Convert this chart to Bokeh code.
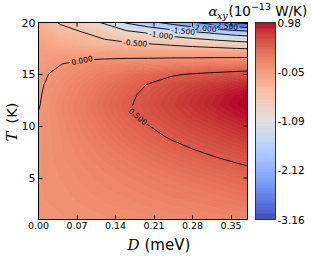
import numpy as np
import contourpy
from bokeh.plotting import figure
from bokeh.models import (Range1d, FixedTicker, PrintfTickFormatter,
                          ColumnDataSource, LinearColorMapper)
from bokeh.core.properties import value
from bokeh.embed import file_html
from bokeh.resources import INLINE

# ---------------- data ----------------
D_meV = [0.0, 0.02, 0.04, 0.08, 0.12, 0.16, 0.20, 0.24, 0.28, 0.32, 0.36, 0.38]
T_K = [1, 3, 5, 7, 9, 11, 12, 13, 14, 15, 16, 17, 18, 19, 20]

# alpha_xy (1e-13 W/K), one list per temperature row, columns follow D_meV
alpha_T01 = [0.01, 0.015, 0.02, 0.035, 0.05, 0.065, 0.08, 0.095, 0.11, 0.125, 0.14, 0.15]
alpha_T03 = [0.02, 0.03, 0.04, 0.07, 0.10, 0.12, 0.15, 0.18, 0.20, 0.23, 0.26, 0.27]
alpha_T05 = [0.02, 0.04, 0.06, 0.10, 0.14, 0.18, 0.22, 0.26, 0.30, 0.34, 0.38, 0.40]
alpha_T07 = [0.02, 0.05, 0.08, 0.14, 0.20, 0.26, 0.32, 0.38, 0.44, 0.495, 0.545, 0.57]
alpha_T09 = [0.01, 0.05, 0.09, 0.18, 0.27, 0.36, 0.44, 0.52, 0.59, 0.65, 0.72, 0.76]
alpha_T11 = [0.01, 0.06, 0.11, 0.23, 0.34, 0.45, 0.55, 0.64, 0.73, 0.81, 0.89, 0.93]
alpha_T12 = [-0.01, 0.06, 0.12, 0.24, 0.36, 0.47, 0.58, 0.68, 0.78, 0.87, 0.95, 0.98]
alpha_T13 = [-0.02, 0.05, 0.10, 0.22, 0.34, 0.45, 0.56, 0.66, 0.76, 0.85, 0.93, 0.96]
alpha_T14 = [-0.03, 0.03, 0.08, 0.19, 0.30, 0.41, 0.51, 0.61, 0.68, 0.75, 0.82, 0.85]
alpha_T15 = [-0.05, 0.005, 0.04, 0.13, 0.22, 0.31, 0.40, 0.47, 0.52, 0.56, 0.60, 0.62]
alpha_T16 = [-0.07, -0.04, -0.005, 0.07, 0.11, 0.14, 0.16, 0.18, 0.20, 0.22, 0.24, 0.25]
alpha_T17 = [-0.10, -0.10, -0.10, -0.11, -0.12, -0.12, -0.13, -0.13, -0.14, -0.14, -0.15, -0.15]
alpha_T18 = [-0.15, -0.20, -0.25, -0.33, -0.40, -0.46, -0.52, -0.59, -0.67, -0.75, -0.85, -0.90]
alpha_T19 = [-0.20, -0.30, -0.38, -0.48, -0.66, -0.85, -1.03, -1.20, -1.38, -1.55, -1.70, -1.75]
alpha_T20 = [-0.30, -0.42, -0.53, -0.80, -1.05, -1.55, -1.85, -2.15, -2.45, -2.75, -3.05, -3.16]
alpha_rows = [alpha_T01, alpha_T03, alpha_T05, alpha_T07, alpha_T09, alpha_T11, alpha_T12,
              alpha_T13, alpha_T14, alpha_T15, alpha_T16, alpha_T17, alpha_T18, alpha_T19,
              alpha_T20]

CBAR_MIN, CBAR_MAX = -3.16, 0.98
cbar_ticks = [0.98, -0.05, -1.09, -2.12, -3.16]
cbar_tick_labels = ["0.98", "-0.05", "-1.09", "-2.12", "-3.16"]
D_ticks = [0.0, 0.07, 0.14, 0.21, 0.28, 0.35]
T_ticks = [5, 10, 15, 20]
contour_levels = [-3.0, -2.5, -2.0, -1.5, -1.0, -0.5, 0.0, 0.5]
label_targets = {0.5: (0.182, 11.0), 0.0: (0.078, 16.68), -0.5: (0.176, 18.15),
                 -1.0: (0.223, 18.85), -1.5: (0.263, 19.25), -2.0: (0.302, 19.6),
                 -2.5: (0.341, 19.8)}

# matplotlib "coolwarm" anchor colours
COOLWARM = [(59, 76, 192), (68, 90, 204), (77, 104, 215), (87, 117, 225), (98, 130, 234),
            (108, 142, 241), (119, 154, 247), (130, 165, 251), (141, 176, 254),
            (152, 185, 255), (163, 194, 255), (174, 201, 253), (184, 208, 249),
            (194, 213, 244), (204, 217, 238), (213, 219, 230), (221, 221, 221),
            (229, 216, 209), (236, 211, 197), (241, 204, 185), (245, 196, 173),
            (247, 187, 160), (247, 177, 148), (247, 166, 135), (244, 154, 123),
            (241, 141, 111), (236, 127, 99), (229, 112, 88), (222, 96, 77),
            (213, 80, 66), (203, 62, 56), (192, 40, 47), (180, 4, 38)]
_anc = np.array(COOLWARM, dtype=float)
_pos = np.linspace(0, 1, len(COOLWARM))
PALETTE = []
for t in np.linspace(0, 1, 256):
    r, g, b = (np.interp(t, _pos, _anc[:, k]) for k in range(3))
    PALETTE.append("#%02x%02x%02x" % (int(round(r)), int(round(g)), int(round(b))))

# ---------------- layout (pixels of the 312x256 canvas) ----------------
FIG_W, FIG_H = 312, 256
X0, Y0 = 38, 22            # pixel of (D_min, T_max)
HEAT_W, HEAT_H = 209, 197  # heat-map size in pixels
D_MIN, D_MAX = D_meV[0], D_meV[-1]
T_MIN, T_MAX = T_K[0], T_K[-1]
kx = (D_MAX - D_MIN) / HEAT_W
ky = (T_MAX - T_MIN) / HEAT_H
kc = (CBAR_MAX - CBAR_MIN) / HEAT_H


def dx(px):
    return D_MIN + (px - X0) * kx


def ty(py):
    return T_MAX - (py - Y0) * ky


def cy(py):
    return CBAR_MAX - (py - Y0) * kc


p = figure(width=FIG_W, height=FIG_H, x_range=Range1d(dx(0), dx(FIG_W)),
           y_range=Range1d(ty(FIG_H), ty(0)), output_backend="svg", toolbar_location=None,
           title=None, min_border=0)
p.min_border_left = 0
p.min_border_bottom = 0
p.min_border_right = 0
p.min_border_top = 0
p.extra_y_ranges = {"cbar": Range1d(cy(FIG_H), cy(0))}
p.xgrid.visible = False
p.ygrid.visible = False
p.outline_line_color = None
p.background_fill_color = "white"
p.border_fill_color = "white"

# ---------------- filled field ----------------
Z = np.array(alpha_rows, dtype=float)
gen = contourpy.contour_generator(x=np.array(D_meV), y=np.array(T_K, dtype=float), z=Z,
                                  fill_type="OuterOffset", line_type="Separate")
mapper = LinearColorMapper(palette=PALETTE, low=CBAR_MIN, high=CBAR_MAX)
fill_levels = np.linspace(CBAR_MIN - 0.001, CBAR_MAX + 0.001, 131)
fxs, fys, fv = [], [], []
for lo, hi in zip(fill_levels[:-1], fill_levels[1:]):
    pts_list, offs_list = gen.filled(lo, hi)
    if len(pts_list) == 0:
        continue
    px_, py_ = [], []
    for pts, offs in zip(pts_list, offs_list):
        px_.append([pts[offs[j]:offs[j + 1], 0].tolist() for j in range(len(offs) - 1)])
        py_.append([pts[offs[j]:offs[j + 1], 1].tolist() for j in range(len(offs) - 1)])
    fxs.append(px_)
    fys.append(py_)
    fv.append(0.5 * (lo + hi))
p.multi_polygons(xs="xs", ys="ys", source=ColumnDataSource(dict(xs=fxs, ys=fys, v=fv)),
                 fill_color={"field": "v", "transform": mapper},
                 line_color={"field": "v", "transform": mapper}, line_width=0.7)

# ---------------- contour lines with labels ----------------
CW = {"-": 0.361, ".": 0.318}
LAB_FS = 7.5


def text_w(s):
    return sum(CW.get(c, 0.636) for c in s) * LAB_FS


def cut(P, lo, hi):
    s = np.concatenate([[0.0], np.cumsum(np.hypot(*np.diff(P, axis=0).T))])

    def at(v):
        return [np.interp(v, s, P[:, 0]), np.interp(v, s, P[:, 1])]
    out = []
    if lo > 0:
        a = np.vstack([P[s < lo], at(lo)])
        if len(a) >= 2:
            out.append(a)
    if hi < s[-1]:
        b = np.vstack([at(hi), P[s > hi]])
        if len(b) >= 2:
            out.append(b)
    return out


lxs, lys = [], []
lab = dict(x=[], y=[], text=[], angle=[])
for lev in contour_levels:
    segs = [np.asarray(a) for a in gen.lines(lev) if len(a) > 1]
    segs_px = [np.column_stack([(a[:, 0] - D_MIN) / kx, (a[:, 1] - T_MIN) / ky]) for a in segs]
    if lev in label_targets and segs_px:
        tD, tT = label_targets[lev]
        tp = np.array([(tD - D_MIN) / kx, (tT - T_MIN) / ky])
        best = None
        for i, P in enumerate(segs_px):
            s = np.concatenate([[0.0], np.cumsum(np.hypot(*np.diff(P, axis=0).T))])
            for j in range(len(P) - 1):
                a, b = P[j], P[j + 1]
                ab = b - a
                L2 = float(ab @ ab)
                t = 0.0 if L2 == 0 else float(np.clip((tp - a) @ ab / L2, 0, 1))
                q = a + t * ab
                d = float(np.hypot(*(q - tp)))
                if best is None or d < best[0]:
                    best = (d, i, s[j] + t * np.sqrt(L2), q, ab)
        _, i, s0, q, ab = best
        ang = float(np.arctan2(ab[1], ab[0]))
        if ang > np.pi / 2:
            ang -= np.pi
        if ang < -np.pi / 2:
            ang += np.pi
        txt = "%.3f" % lev
        half = text_w(txt) / 2 + 1.5
        P = segs_px.pop(i)
        segs_px.extend(cut(P, s0 - half, s0 + half))
        lab["x"].append(D_MIN + q[0] * kx)
        lab["y"].append(T_MIN + q[1] * ky)
        lab["text"].append(txt)
        lab["angle"].append(ang)
    for P in segs_px:
        lxs.append((D_MIN + P[:, 0] * kx).tolist())
        lys.append((T_MIN + P[:, 1] * ky).tolist())

p.multi_line(xs=lxs, ys=lys, line_color="black", line_width=0.9)
p.text(x="x", y="y", text="text", angle="angle", source=ColumnDataSource(lab),
       text_font=value("DejaVu Sans"), text_font_size="%.1fpx" % LAB_FS,
       text_align="center", text_baseline="middle", text_color="black")

# ---------------- heatmap frame & inner ticks ----------------
p.quad(left=D_MIN, right=D_MAX, bottom=T_MIN, top=T_MAX, fill_color=None,
       line_color="black", line_width=1)
p.segment(x0=D_ticks, y0=[T_MAX] * len(D_ticks), x1=D_ticks,
          y1=[T_MAX - 4 * ky] * len(D_ticks), line_color="black", line_width=1)
p.segment(x0=[D_MAX - 4 * kx] * len(T_ticks), y0=T_ticks, x1=[D_MAX] * len(T_ticks),
          y1=T_ticks, line_color="black", line_width=1)

for ax in (p.xaxis[0], p.yaxis[0]):
    ax.major_tick_in = 4
    ax.major_tick_out = 0
    ax.minor_tick_line_color = None
    ax.axis_line_color = "black"
    ax.major_tick_line_color = "black"
    ax.major_label_text_font = "DejaVu Sans"
    ax.major_label_text_color = "black"
p.xaxis.fixed_location = T_MIN
p.yaxis.fixed_location = D_MIN
p.xaxis.ticker = FixedTicker(ticks=D_ticks)
p.xaxis.formatter = PrintfTickFormatter(format="%.2f")
p.xaxis.bounds = (D_MIN, D_MAX)
p.xaxis.major_label_text_font_size = "9.5px"
p.xaxis.major_label_standoff = 2
p.yaxis.ticker = FixedTicker(ticks=T_ticks)
p.yaxis.bounds = (T_MIN, T_MAX)
p.yaxis.major_label_text_font_size = "11px"
p.yaxis.major_label_standoff = 3

# ---------------- colour bar ----------------
cx0 = dx(255)
cx1 = dx(275)
edges = np.linspace(CBAR_MIN, CBAR_MAX, len(PALETTE) + 1)
p.quad(left=cx0, right=cx1, bottom=edges[:-1], top=edges[1:], fill_color=PALETTE,
       line_color=PALETTE, line_width=0.5, y_range_name="cbar")
p.quad(left=cx0, right=cx1, bottom=CBAR_MIN, top=CBAR_MAX, fill_color=None,
       line_color="#333333", line_width=1, y_range_name="cbar")
p.text(x=[dx(277)] * len(cbar_ticks), y=cbar_ticks, text=cbar_tick_labels,
       y_range_name="cbar", text_font=value("DejaVu Sans"), text_font_size="10.5px",
       text_align="left", text_baseline="middle", text_color="black")


# ---------------- free texts (pixel placement, vertically centred) ----------------
def put(text, px, py, size, font="DejaVu Sans", style="normal", angle=0.0):
    p.text(x=[dx(px)], y=[ty(py)], text=[text], angle=angle, text_font=value(font),
           text_font_style=style, text_font_size=size, text_align="left",
           text_baseline="middle", text_color="black")


# colour-bar title
put("\u03b1", 208, 10.5, "13.5px", "DejaVu Serif", "italic")
put("xy", 216.5, 15.4, "9.5px", "DejaVu Serif", "italic")
put("(10", 228, 10.5, "13.5px")
put("\u221213", 250.4, 5.9, "9.5px")
put("W/K)", 274.7, 10.5, "13.5px")
# y axis label
put("T", 11, 141, "15px", "DejaVu Serif", "italic", np.pi / 2)
put("(K)", 11, 123, "14.5px", "DejaVu Sans", "normal", np.pi / 2)
# x axis label
put("D", 127, 244.5, "15px", "DejaVu Serif", "italic")
put("(meV)", 144, 244.5, "15px")

open("out.html", "w").write(file_html(p, INLINE))
